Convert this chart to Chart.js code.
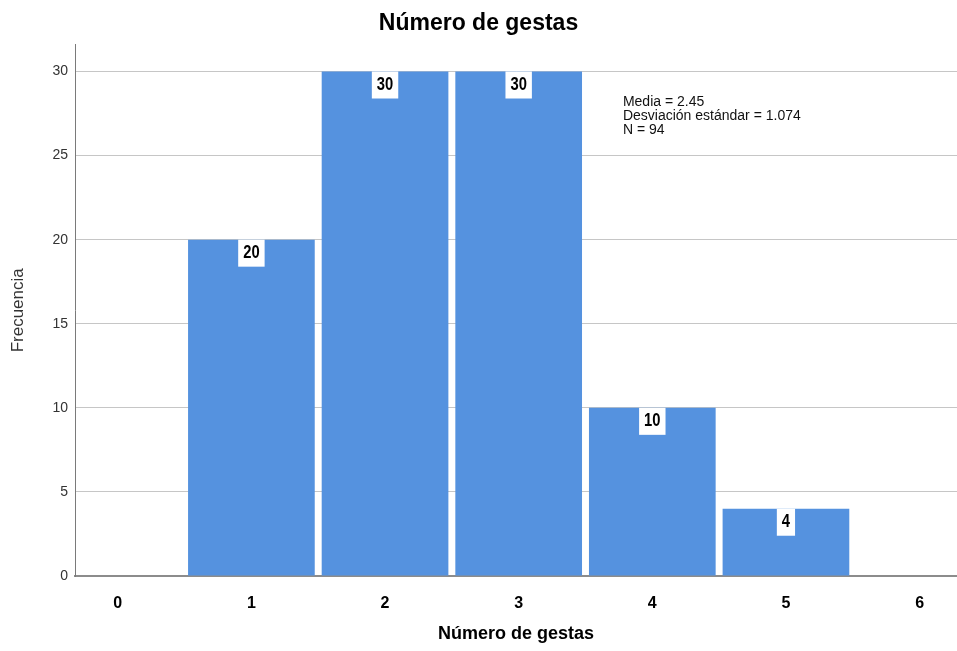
<!DOCTYPE html>
<html>
<head>
<meta charset="utf-8">
<script src="https://cdn.jsdelivr.net/npm/chart.js@4.4.1/dist/chart.umd.min.js"></script>
<style>
  html, body { margin: 0; padding: 0; background: #fff; }
  #wrap { width: 957px; height: 651px; }
</style>
</head>
<body>
<div id="wrap"><canvas id="histGestas" width="957" height="651"></canvas></div>
<script>
const gestas = [1, 2, 3, 4, 5]
const frecuencias = [20, 30, 30, 10, 4]
const statsLines = ['Media = 2.45', 'Desviación estándar = 1.074', 'N = 94']

const barColor = '#5592df'
const baseFont = "'Liberation Sans', Arial, sans-serif"

const points = gestas.map((g, i) => ({ x: g, y: frecuencias[i] }))

// etiquetas blancas arriba de cada barra (texto estrecho)
const barLabels = {
    id: 'barLabels',
    afterDatasetsDraw(chart) {
        const ctx = chart.ctx
        const meta = chart.getDatasetMeta(0)
        const squeeze = 0.82
        ctx.save()
        ctx.font = "bold 18px " + baseFont
        ctx.textAlign = 'center'
        ctx.textBaseline = 'middle'
        meta.data.forEach((bar, i) => {
            const txt = String(frecuencias[i])
            const w = ctx.measureText(txt).width * squeeze + 10
            const h = 27
            ctx.fillStyle = '#ffffff'
            ctx.fillRect(bar.x - w / 2, bar.y, w, h)
            ctx.save()
            ctx.translate(bar.x, bar.y + h / 2)
            ctx.scale(squeeze, 1)
            ctx.fillStyle = '#000000'
            ctx.fillText(txt, 0, 0)
            ctx.restore()
        })
        ctx.restore()
    }
}

// cuadro de estadisticos
const statsBox = {
    id: 'statsBox',
    afterDraw(chart) {
        const ctx = chart.ctx
        const xs = chart.scales.x
        const ys = chart.scales.y
        ctx.save()
        ctx.font = "14px " + baseFont
        ctx.fillStyle = '#111'
        ctx.textAlign = 'left'
        ctx.textBaseline = 'middle'
        const x0 = xs.getPixelForValue(3.78)
        const y0 = ys.getPixelForValue(28.2)
        statsLines.forEach((s, i) => ctx.fillText(s, x0, y0 + i * 14))
        ctx.restore()
    }
}

const config = {
    type: 'bar',
    data: {
        datasets: [
            {
                label: 'Frecuencia',
                data: points,
                backgroundColor: barColor,
                borderWidth: 0,
                barPercentage: 0.948,
                categoryPercentage: 1,
            }
        ]
    },
    options: {
        responsive: false,
        animation: false,
        layout: { padding: 0 },
        scales: {
            x: {
                type: 'linear',
                offset: false,
                min: -0.32,
                max: 6.28,
                afterFit: (scale) => { scale.height = 75 },
                grid: { display: false, drawTicks: false, offset: false },
                border: { display: true, color: '#8c8c8c', width: 2 },
                ticks: {
                    stepSize: 1,
                    includeBounds: false,
                    padding: 18,
                    color: '#000',
                    font: { size: 16, weight: 'bold', family: baseFont },
                },
                title: {
                    display: true,
                    text: 'Número de gestas',
                    color: '#000',
                    padding: { top: 4, bottom: 6 },
                    font: { size: 18, weight: 'bold', family: baseFont },
                }
            },
            y: {
                min: 0,
                max: 31.6,
                afterFit: (scale) => { scale.width = 75 },
                grid: { color: '#c6c6c6', lineWidth: 1, drawTicks: false },
                border: { display: true, color: '#7a7a7a', width: 1 },
                ticks: {
                    stepSize: 5,
                    includeBounds: false,
                    padding: 7,
                    color: '#333',
                    font: { size: 14, family: baseFont },
                },
                title: {
                    display: true,
                    text: 'Frecuencia',
                    color: '#333',
                    padding: { top: 8, bottom: 0 },
                    font: { size: 17, family: baseFont },
                }
            }
        },
        plugins: {
            legend: { display: false },
            tooltip: { enabled: false },
            title: {
                display: true,
                text: 'Número de gestas',
                color: '#000',
                padding: { top: 10, bottom: 7 },
                font: { size: 23, weight: 'bold', family: baseFont },
            }
        }
    },
    plugins: [barLabels, statsBox]
}

new Chart(document.getElementById('histGestas'), config)
</script>
</body>
</html>
